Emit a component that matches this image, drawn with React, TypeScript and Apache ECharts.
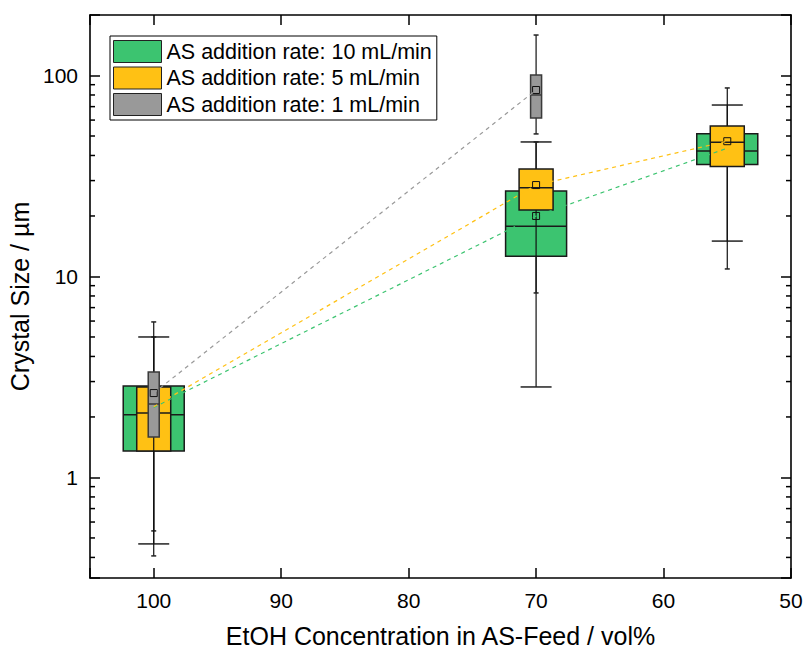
import React, { useEffect, useRef } from "react";
import * as echarts from "echarts";

const FONT = "'Liberation Sans', Arial, Helvetica, sans-serif";

// Series names (legend)
const seriesNames = [
  "AS addition rate: 10 mL/min",
  "AS addition rate: 5 mL/min",
  "AS addition rate: 1 mL/min",
];
const seriesColors = ["#3CC470", "#FFC114", "#999999"];

// EtOH concentration positions (vol%)
const xPositions10 = [100, 70, 55];
const xPositions5 = [100, 70, 55];
const xPositions1 = [100, 70];

// Box statistics per position: [lower whisker, Q1, median, Q3, upper whisker]
const stats10 = [
  [0.467, 1.355, 2.05, 2.85, 5.0],
  [2.82, 12.6, 17.8, 26.6, 46.7],
  [15.0, 36.1, 42.1, 51.3, 71.3],
];
const stats5 = [
  [0.542, 1.355, 2.09, 2.82, 5.0],
  [8.28, 21.4, 27.6, 34.3, 46.7],
  [10.9, 35.3, 46.5, 56.1, 86.7],
];
const stats1 = [
  [0.407, 1.59, 2.32, 3.35, 5.94],
  [51.2, 61.5, 80.0, 100.6, 159],
];

// Mean crystal sizes (µm)
const means10 = [2.23, 20.0, 43.5];
const means5 = [2.25, 28.5, 47.1];
const means1 = [2.63, 84.7];

// Axis ticks
const xTickLabels = [100, 90, 80, 70, 60, 50];
const yMajorTicks = [1, 10, 100];
const yMinorTicks = [0.4, 0.5, 0.6, 0.7, 0.8, 0.9, 2, 3, 4, 5, 6, 7, 8, 9, 20, 30, 40, 50, 60, 70, 80, 90];

function boxSeries(name: string, color: string, xs: number[], stats: number[][], means: number[], boxW: number, capW: number, borderColor: string) {
  const data = xs.map((x, i) => [x, ...stats[i], means[i]]);
  return {
    type: "custom",
    name,
    itemStyle: { color, borderColor: "#222", borderWidth: 1 },
    encode: { x: 0, y: [1, 2, 3, 4, 5, 6] },
    data,
    clip: false,
    renderItem: (params: any, api: any) => {
      const x = api.value(0);
      const pLow = api.coord([x, api.value(1)]);
      const pQ1 = api.coord([x, api.value(2)]);
      const pMed = api.coord([x, api.value(3)]);
      const pQ3 = api.coord([x, api.value(4)]);
      const pHigh = api.coord([x, api.value(5)]);
      const pMean = api.coord([x, api.value(6)]);
      const cx = pMed[0];
      const lineStyle = { stroke: "#111", lineWidth: 1.2 };
      return {
        type: "group",
        children: [
          { type: "line", shape: { x1: cx, y1: pLow[1], x2: cx, y2: pHigh[1] }, style: lineStyle },
          { type: "line", shape: { x1: cx - capW / 2, y1: pLow[1], x2: cx + capW / 2, y2: pLow[1] }, style: { stroke: "#222", lineWidth: 1.5 } },
          { type: "line", shape: { x1: cx - capW / 2, y1: pHigh[1], x2: cx + capW / 2, y2: pHigh[1] }, style: { stroke: "#222", lineWidth: 1.5 } },
          {
            type: "rect",
            shape: { x: cx - boxW / 2, y: pQ3[1], width: boxW, height: pQ1[1] - pQ3[1] },
            style: { fill: color, stroke: borderColor, lineWidth: 1.5 },
          },
          { type: "line", shape: { x1: cx - boxW / 2, y1: pMed[1], x2: cx + boxW / 2, y2: pMed[1] }, style: { stroke: borderColor, lineWidth: 1.5 } },
          {
            type: "rect",
            shape: { x: pMean[0] - 3.5, y: pMean[1] - 3.5, width: 7, height: 7 },
            style: { fill: "none", stroke: "#111", lineWidth: 1 },
          },
        ],
      };
    },
  };
}

function meanLine(name: string, color: string, xs: number[], means: number[]) {
  return {
    type: "line",
    name,
    data: xs.map((x, i) => [x, means[i]]),
    symbol: "none",
    silent: true,
    lineStyle: { color, width: 1.2, type: [4, 4] },
  };
}

export default function App() {
  const ref = useRef<HTMLDivElement>(null);
  useEffect(() => {
    document.body.style.margin = "0";
    const chart = echarts.init(ref.current!, null, { renderer: "svg" });
    const yLabelFormatter = (v: number) => {
      const r = yMajorTicks.find((t) => Math.abs(t - v) / t < 1e-6);
      return r !== undefined ? String(r) : "";
    };
    const xLabelFormatter = (v: number) => (xTickLabels.includes(Math.round(v)) && Math.abs(v - Math.round(v)) < 1e-6 ? String(Math.round(v)) : "");
    const axisLine = { show: true, onZero: false, lineStyle: { color: "#000", width: 1.6 } };
    const tick = { show: true, inside: true, length: 10, lineStyle: { color: "#000", width: 1.5 } };
    const option: any = {
      animation: false,
      backgroundColor: "#fff",
      textStyle: { fontFamily: FONT },
      grid: { left: 90, top: 15, right: 12, bottom: 72, containLabel: false, outerBoundsMode: "none" },
      legend: {
        left: 110,
        top: 36,
        orient: "vertical",
        itemWidth: 48,
        itemHeight: 22,
        itemGap: 3.5,
        padding: [4, 5, 4, 3],
        borderColor: "#000",
        borderWidth: 1,
        backgroundColor: "#fff",
        selectedMode: false,
        textStyle: { fontSize: 21.5, color: "#000", fontFamily: FONT },
        data: seriesNames.map((n, i) => ({
          name: n,
          icon: "rect",
          itemStyle: { color: seriesColors[i], borderColor: "#222", borderWidth: 1 },
        })),
      },
      xAxis: [
        {
          type: "value",
          min: 50,
          max: 105,
          interval: 10,
          inverse: true,
          position: "bottom",
          name: "EtOH Concentration in AS-Feed / vol%",
          nameLocation: "middle",
          nameGap: 45,
          nameTextStyle: { fontSize: 25, color: "#000", fontFamily: FONT },
          axisLine,
          axisTick: tick,
          axisLabel: { fontSize: 21, color: "#000", margin: 12, formatter: xLabelFormatter, fontFamily: FONT },
          splitLine: { show: false },
        },
        {
          type: "value",
          min: 50,
          max: 105,
          interval: 10,
          inverse: true,
          position: "top",
          axisLine,
          axisTick: tick,
          axisLabel: { show: false },
          splitLine: { show: false },
        },
      ],
      yAxis: [
        {
          type: "log",
          logBase: 10,
          min: 0.316,
          max: 200,
          position: "left",
          name: "Crystal Size / µm",
          nameLocation: "middle",
          nameGap: 42,
          nameTextStyle: { fontSize: 25, color: "#000", fontFamily: FONT },
          axisLine,
          axisTick: tick,
          axisLabel: { fontSize: 21, color: "#000", margin: 12, formatter: yLabelFormatter, fontFamily: FONT },
          splitLine: { show: false },
        },
        {
          type: "log",
          logBase: 10,
          min: 0.316,
          max: 200,
          position: "right",
          axisLine,
          axisTick: tick,
          axisLabel: { show: false },
          splitLine: { show: false },
        },
      ],
      series: [
        meanLine("mean 10", seriesColors[0], xPositions10, means10),
        boxSeries(seriesNames[0], seriesColors[0], xPositions10, stats10, means10, 61, 31, "#1a1a1a"),
        meanLine("mean 5", seriesColors[1], xPositions5, means5),
        boxSeries(seriesNames[1], seriesColors[1], xPositions5, stats5, means5, 34, 5, "#1a1a1a"),
        meanLine("mean 1", seriesColors[2], xPositions1, means1),
        boxSeries(seriesNames[2], seriesColors[2], xPositions1, stats1, means1, 11, 5, "#3a3a3a"),
        {
          type: "custom",
          name: "minor ticks",
          silent: true,
          clip: false,
          encode: { y: 0 },
          data: yMinorTicks.map((v) => [v]),
          renderItem: (params: any, api: any) => {
            const v = api.value(0);
            const y = api.coord([100, v])[1];
            const cs = params.coordSys;
            const st = { stroke: "#000", lineWidth: 1.5 };
            return {
              type: "group",
              children: [
                { type: "line", shape: { x1: cs.x, y1: y, x2: cs.x + 5, y2: y }, style: st },
                { type: "line", shape: { x1: cs.x + cs.width, y1: y, x2: cs.x + cs.width - 5, y2: y }, style: st },
              ],
            };
          },
        },
      ],
    };
    chart.setOption(option);
    return () => chart.dispose();
  }, []);
  return <div ref={ref} style={{ width: 803, height: 650 }} />;
}
